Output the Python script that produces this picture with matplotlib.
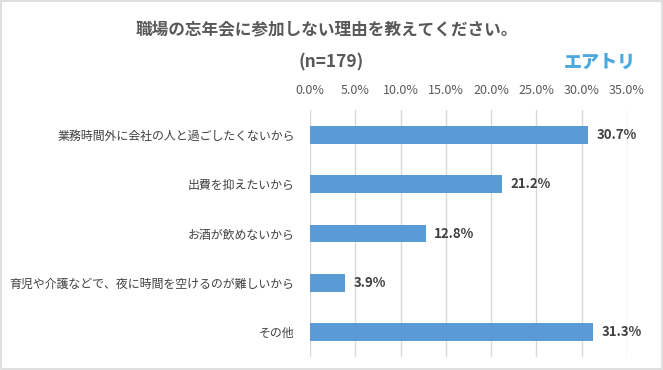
import matplotlib
matplotlib.use("Agg")
import matplotlib.pyplot as plt
from matplotlib.ticker import FuncFormatter, MultipleLocator
from matplotlib.patches import Rectangle

plt.rcParams['font.family'] = ['Noto Sans CJK JP', 'DejaVu Sans']

categories = [
    "業務時間外に会社の人と過ごしたくないから",
    "出費を抑えたいから",
    "お酒が飲めないから",
    "育児や介護などで、夜に時間を空けるのが難しいから",
    "その他",
]
values = [30.7, 21.2, 12.8, 3.9, 31.3]

TEXT = "#595959"
DARK = "#404040"
BAR = "#5B9BD5"

fig = plt.figure(figsize=(6.63, 3.70), dpi=100)
ax = fig.add_axes([310 / 663, 13 / 370, 317 / 663, 247 / 370])

ypos = list(range(len(categories)))
ax.barh(ypos, values, height=0.36, color=BAR, zorder=3)
ax.set_ylim(len(categories) - 0.5, -0.5)
ax.set_xlim(0, 35)
ax.xaxis.set_major_locator(MultipleLocator(5))
ax.xaxis.set_major_formatter(FuncFormatter(lambda v, p: f"{v:.1f}%"))
ax.xaxis.tick_top()
ax.tick_params(axis="x", length=0, pad=9, labelsize=9, labelcolor=TEXT)
ax.set_yticks(ypos)
ax.set_yticklabels(categories)
ax.tick_params(axis="y", length=0, pad=11, labelsize=8.6, labelcolor=DARK)
ax.grid(axis="x", color="#D9D9D9", linewidth=1, zorder=0)
for s in ax.spines.values():
    s.set_visible(False)

for y, v in zip(ypos, values):
    ax.text(v + 0.9, y, f"{v:.1f}%", va="center", ha="left",
            fontsize=9.5, fontweight="bold", color=DARK)

fig.text(327 / 663, 341 / 370, "職場の忘年会に参加しない理由を教えてください。",
         ha="center", va="center", fontsize=12, fontweight="bold", color=TEXT)
fig.text(331 / 663, 308 / 370, "(n=179)", ha="center", va="center",
         fontsize=12.5, fontweight="bold", color=TEXT)
fig.text(600 / 663, 308 / 370, "エアトリ", ha="center", va="center",
         fontsize=13, fontweight="heavy", color="#4BA7DE")

fig.patches.append(Rectangle((0.002, 0.003), 0.996, 0.994, transform=fig.transFigure,
                             fill=False, edgecolor="#D9D9D9", linewidth=1.2))

fig.savefig("out.png", dpi=100)
